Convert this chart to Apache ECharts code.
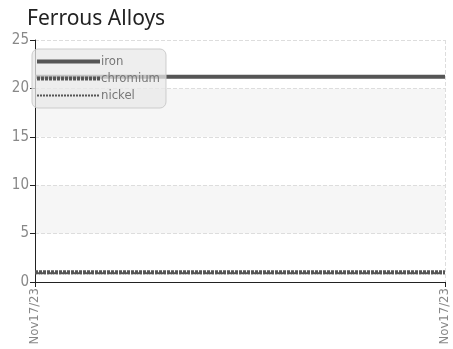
<!DOCTYPE html>
<html>
<head>
<meta charset="utf-8">
<script src="https://cdn.jsdelivr.net/npm/echarts@6/dist/echarts.min.js"></script>
<style>
  html, body { margin: 0; padding: 0; background: #fff; }
  #main { width: 453px; height: 349px; }
</style>
</head>
<body>
<div id="main"></div>
<script>
const dates = ['Nov17/23', 'Nov17/23'];
const iron = [21.2, 21.2];
const chromium = [1.0, 1.0];
const nickel = [0.9, 0.9];
const yTicks = [0, 5, 10, 15, 20, 25];

const labelFont = "'Liberation Sans Narrow', 'DejaVu Sans Condensed', sans-serif";

const chart = echarts.init(document.getElementById('main'));
const option = {
    animation: false,
    title: {
        text: 'Ferrous Alloys',
        left: 22,
        top: 4,
        textStyle: { fontFamily: 'Noto Sans', fontSize: 21, fontWeight: 'normal', color: '#222' }
    },
    legend: {
        orient: 'vertical',
        left: 32,
        top: 49,
        padding: [6, 6, 6, 3],
        itemWidth: 63,
        itemHeight: 10,
        itemGap: 4,
        backgroundColor: 'rgba(232,232,232,0.75)',
        borderColor: '#ccc',
        borderWidth: 1,
        borderRadius: 6,
        itemStyle: { opacity: 0 },
        textStyle: { fontFamily: labelFont, fontSize: 13, color: '#777', padding: [0, 0, 0, -4] },
        data: [
            { name: 'iron', lineStyle: { width: 4 } },
            { name: 'chromium', lineStyle: { width: 4, type: [3, 1] } },
            { name: 'nickel', lineStyle: { width: 2, type: [2, 1] } }
        ]
    },
    grid: { left: 35, right: 8, top: 40, bottom: 67 },
    xAxis: {
        type: 'category',
        data: dates,
        boundaryGap: false,
        axisLine: { lineStyle: { color: '#222', width: 1 } },
        axisTick: { show: true, alignWithLabel: true, lineStyle: { color: '#222' } },
        axisLabel: { rotate: 90, color: '#888', fontFamily: labelFont, fontSize: 13, margin: 6 },
        splitLine: { show: true, lineStyle: { type: 'dashed', color: '#ddd' } }
    },
    yAxis: {
        type: 'value',
        min: yTicks[0],
        max: yTicks[yTicks.length - 1],
        interval: 5,
        axisLine: { show: true, lineStyle: { color: '#222', width: 1 } },
        axisTick: { show: true, lineStyle: { color: '#222' } },
        axisLabel: { color: '#888', fontFamily: labelFont, fontSize: 15, margin: 6 },
        splitLine: { lineStyle: { type: 'dashed', color: '#ddd' } },
        splitArea: { show: true, areaStyle: { color: ['#fff', '#f6f6f6'] } }
    },
    series: [
        {
            name: 'iron', type: 'line', data: iron, symbol: 'none',
            lineStyle: { color: '#555', width: 4 }, itemStyle: { color: '#555' }
        },
        {
            name: 'chromium', type: 'line', data: chromium, symbol: 'none',
            lineStyle: { color: '#555', width: 4, type: [3, 1] }, itemStyle: { color: '#555' }
        },
        {
            name: 'nickel', type: 'line', data: nickel, symbol: 'none',
            lineStyle: { color: '#555', width: 2, type: [2, 1] }, itemStyle: { color: '#555' }
        }
    ]
};
chart.setOption(option);
</script>
</body>
</html>
